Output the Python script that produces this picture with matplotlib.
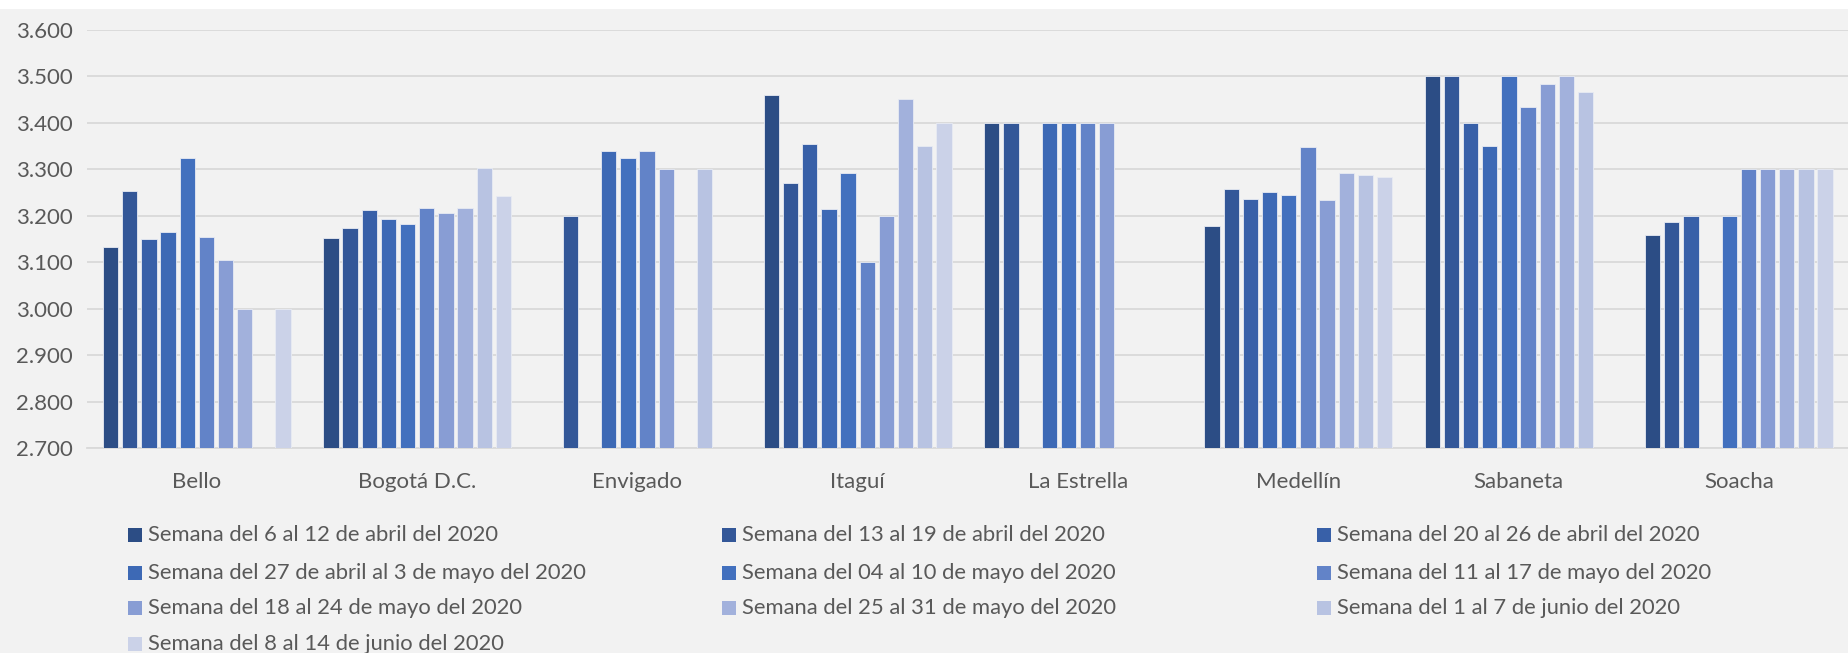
import matplotlib.pyplot as plt
from matplotlib.patches import Rectangle
from matplotlib.ticker import FuncFormatter
import numpy as np

nan = np.nan

municipios = ["Bello", "Bogotá D.C.", "Envigado", "Itaguí", "La Estrella",
              "Medellín", "Sabaneta", "Soacha"]

semanas = [
    "Semana del 6 al 12 de abril del 2020",
    "Semana del 13 al 19 de abril del 2020",
    "Semana del 20 al 26 de abril del 2020",
    "Semana del 27 de abril al 3 de mayo del 2020",
    "Semana del 04 al 10 de mayo del 2020",
    "Semana del 11 al 17 de mayo del 2020",
    "Semana del 18 al 24 de mayo del 2020",
    "Semana del 25 al 31 de mayo del 2020",
    "Semana del 1 al 7 de junio del 2020",
    "Semana del 8 al 14 de junio del 2020",
]

# one list per week, values in municipio order
sem1 = [3133, 3151, nan, 3460, 3400, 3177, 3500, 3159]
sem2 = [3253, 3173, 3200, 3270, 3400, 3257, 3500, 3186]
sem3 = [3150, 3212, nan, 3354, nan, 3236, 3400, 3200]
sem4 = [3165, 3193, 3340, 3214, 3400, 3251, 3350, nan]
sem5 = [3324, 3182, 3325, 3292, 3400, 3245, 3500, 3200]
sem6 = [3155, 3217, 3340, 3100, 3400, 3348, 3434, 3300]
sem7 = [3105, 3206, 3300, 3200, 3400, 3234, 3483, 3300]
sem8 = [3000, 3217, nan, 3450, nan, 3291, 3500, 3300]
sem9 = [nan, 3303, 3300, 3350, nan, 3288, 3467, 3300]
sem10 = [3000, 3243, nan, 3400, nan, 3284, nan, 3300]
series = [sem1, sem2, sem3, sem4, sem5, sem6, sem7, sem8, sem9, sem10]

colores = ["#2c4d85", "#335798", "#3860a8", "#3d69b5", "#4270be",
           "#6283c8", "#889dd4", "#a2b1dc", "#b8c3e2", "#cbd2e8"]

plt.rcParams["font.family"] = ["Lato", "DejaVu Sans"]
bg = "#f2f2f2"

fig = plt.figure(figsize=(18.49, 6.53), dpi=100, facecolor=bg)
# white strip at the very top (cut-off title area)
fig.add_artist(Rectangle((0, 1 - 9 / 653), 1, 9 / 653, transform=fig.transFigure,
                         facecolor="white", edgecolor="none"))

ax = fig.add_axes([86.7 / 1849, 1 - 448 / 653, 1 - 86.7 / 1849, (448 - 29.7) / 653])
ax.set_facecolor(bg)

x = np.arange(len(municipios))
slot = 0.087
for i, (vals, c) in enumerate(zip(series, colores)):
    off = (i - 4.5) * slot
    ax.bar(x + off, vals, width=slot * 0.8, bottom=0, color=c,
           edgecolor="#e8ebf3", linewidth=0.6, zorder=3, label=semanas[i])

ax.set_ylim(2700, 3600)
ax.set_xlim(-0.5, len(municipios) - 0.5)
ax.set_yticks(np.arange(2700, 3601, 100))
ax.yaxis.set_major_formatter(FuncFormatter(lambda v, p: f"{v:,.0f}".replace(",", ".")))
ax.set_xticks(x)
ax.set_xticklabels(municipios)
ax.grid(axis="y", color="#d9d9d9", linewidth=1.3, zorder=0)
for s in ["top", "right", "left"]:
    ax.spines[s].set_visible(False)
ax.spines["bottom"].set_color("#d9d9d9")
ax.spines["bottom"].set_linewidth(1.3)
ax.tick_params(axis="both", length=0, labelsize=16, colors="#595959")
ax.tick_params(axis="y", pad=10)
ax.tick_params(axis="x", pad=17)

# legend laid out row by row like the original
col_x = [128, 722, 1317]
row_y = [535, 573, 608, 644]
for i, (lab, c) in enumerate(zip(semanas, colores)):
    r, k = divmod(i, 3)
    px, py = col_x[k], row_y[r]
    fig.add_artist(Rectangle((px / 1849, 1 - (py + 7) / 653), 14 / 1849, 14 / 653,
                             transform=fig.transFigure, facecolor=c, edgecolor="none"))
    fig.text((px + 20) / 1849, 1 - py / 653, lab, fontsize=15.8, color="#595959",
             va="center", ha="left")

fig.savefig("out.png", dpi=100, facecolor=bg)
